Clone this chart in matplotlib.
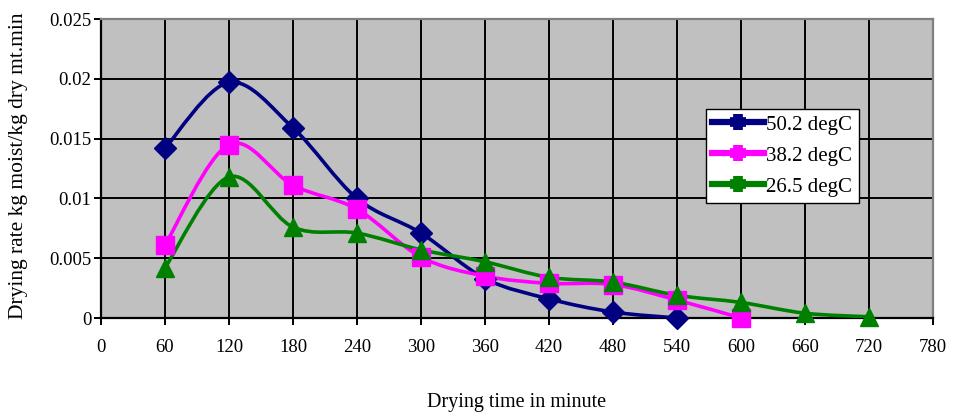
import matplotlib
matplotlib.use("Agg")
import matplotlib.pyplot as plt
import numpy as np
from matplotlib.path import Path
from matplotlib.patches import PathPatch
from matplotlib.lines import Line2D

plt.rcParams['font.family'] = ['Liberation Serif', 'DejaVu Serif']

# drying time in minutes
time_502 = [60, 120, 180, 240, 300, 360, 420, 480, 540]
rate_502 = [0.0142, 0.0197, 0.0159, 0.0100, 0.0071, 0.0033, 0.0016, 0.0005, 0.0]

time_382 = [60, 120, 180, 240, 300, 360, 420, 480, 540, 600]
rate_382 = [0.0061, 0.0145, 0.0111, 0.0091, 0.0051, 0.0035, 0.0029, 0.0028, 0.0015, 0.0]

time_265 = [60, 120, 180, 240, 300, 360, 420, 480, 540, 600, 660, 720]
rate_265 = [0.0042, 0.0118, 0.0076, 0.0071, 0.0057, 0.0047, 0.0034, 0.0030, 0.0019, 0.0013, 0.0004, 0.0001]

series = [
    ("50.2 degC", time_502, rate_502, "#000080", "D", 11),
    ("38.2 degC", time_382, rate_382, "#FF00FF", "s", 13),
    ("26.5 degC", time_265, rate_265, "#008000", "^", 13),
]

x_ticks = np.arange(0, 781, 60)
y_ticks = [0, 0.005, 0.01, 0.015, 0.02, 0.025]
y_tick_labels = ["0", "0.005", "0.01", "0.015", "0.02", "0.025"]


# Excel-style smoothed line: cubic bezier through the points
def smooth_path(xs, ys):
    p = np.column_stack([xs, ys]).astype(float)
    n = len(p)
    verts = [p[0]]
    codes = [Path.MOVETO]
    for i in range(n - 1):
        p0 = p[i - 1] if i > 0 else p[i]
        p3 = p[i + 2] if i + 2 < n else p[i + 1]
        c1 = p[i] + (p[i + 1] - p0) / 6.0
        c2 = p[i + 1] - (p3 - p[i]) / 6.0
        verts += [c1, c2, p[i + 1]]
        codes += [Path.CURVE4] * 3
    return Path(verts, codes)


fig = plt.figure(figsize=(9.54, 4.19), dpi=100)
ax = fig.add_axes([101 / 954, 1 - 318 / 419, 832 / 954, 299 / 419])
ax.set_facecolor("#C0C0C0")

handles = []
for label, xs, ys, col, mk, ms in series:
    ax.add_patch(PathPatch(smooth_path(xs, ys), facecolor="none", edgecolor=col,
                           linewidth=2.6, zorder=3))
    ax.plot(xs, ys, linestyle="none", marker=mk, color=col, markersize=ms, zorder=4,
            clip_on=False)
    handles.append(Line2D([0], [0], color=col, linewidth=4.5, marker="+",
                          markersize=11, markeredgewidth=7, label=label))

ax.set_xlim(0, 780)
ax.set_ylim(0, 0.025)
ax.set_xticks(x_ticks)
ax.set_yticks(y_ticks)
ax.set_yticklabels(y_tick_labels)
ax.grid(True, color="black", linewidth=1.4)
ax.set_axisbelow(True)
ax.tick_params(axis="both", direction="out", length=5, width=1.4, labelsize=13.5)
ax.tick_params(axis="x", pad=10)
ax.tick_params(axis="y", pad=2)
for s in ["left", "bottom"]:
    ax.spines[s].set_color("black")
    ax.spines[s].set_linewidth(1.6)
for s in ["top", "right"]:
    ax.spines[s].set_color("#808080")
    ax.spines[s].set_linewidth(1.6)

ax.set_xlabel("Drying time in minute", fontsize=14.5)
ax.xaxis.set_label_coords(0.5, (318 - 393) / 299)
ax.set_ylabel("Drying rate kg moist/kg dry mt.min", fontsize=15.5)
ax.yaxis.set_label_coords((28 - 101) / 832, (318 - 166) / 299)

leg = ax.legend(handles=handles, loc="lower left",
                bbox_to_anchor=((706 - 101) / 832, (318 - 203) / 299),
                fontsize=15, frameon=True, fancybox=False, edgecolor="black",
                framealpha=1, handlelength=2.5, handletextpad=0.1, borderpad=0.3,
                borderaxespad=0, labelspacing=0.55)
leg.get_frame().set_linewidth(1.0)

fig.savefig("out.png", dpi=100)
